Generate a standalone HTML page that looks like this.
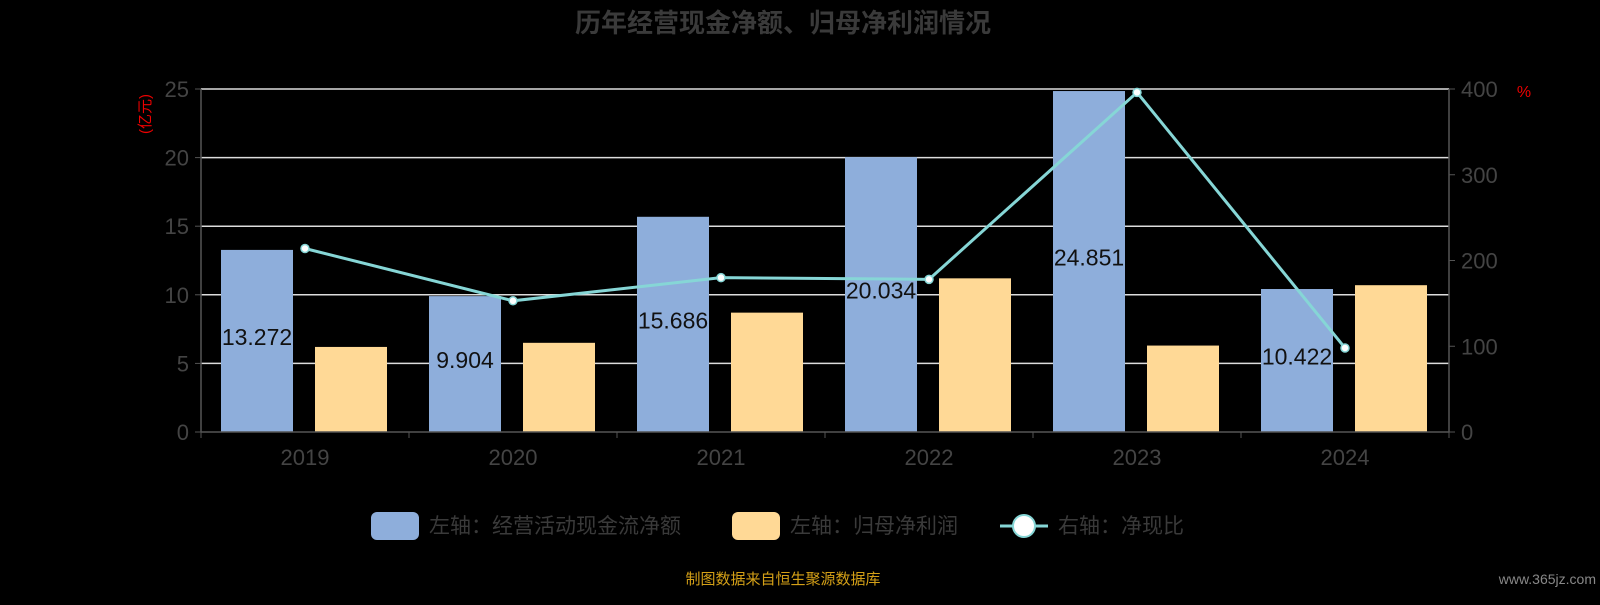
<!DOCTYPE html>
<html><head><meta charset="utf-8"><style>
body{margin:0;background:#000;}
svg text{font-family:"Liberation Sans","Noto Sans CJK SC",sans-serif;}
</style></head><body>
<svg id="c" width="1600" height="600" xmlns="http://www.w3.org/2000/svg">
<rect width="1600" height="600" fill="#000"/>
<text x="783" y="32" text-anchor="middle" font-size="26" font-weight="bold" fill="#3a3a3a">历年经营现金净额、归母净利润情况</text>
<text transform="translate(150,114) rotate(-90)" text-anchor="middle" font-size="15" fill="#e00">(亿元)</text>
<text x="1524" y="97" text-anchor="middle" font-size="16" fill="#e00">%</text>
<g id="grid"></g><g id="bars"></g><g id="line"></g><g id="axes"></g>
<g>
<rect x="371" y="512" width="48" height="28" rx="6" fill="#8eaedb"/>
<text x="429" y="533" font-size="21" fill="#3a3a3a">左轴：经营活动现金流净额</text>
<rect x="732" y="512" width="48" height="28" rx="6" fill="#ffd996"/>
<text x="790" y="533" font-size="21" fill="#3a3a3a">左轴：归母净利润</text>
<line x1="1000" y1="526" x2="1048" y2="526" stroke="#86d6d6" stroke-width="3"/>
<circle cx="1024" cy="526" r="11" fill="#fff" stroke="#86d6d6" stroke-width="2"/>
<text x="1058" y="533" font-size="21" fill="#3a3a3a">右轴：净现比</text>
</g>
<text x="783" y="584" text-anchor="middle" font-size="15" fill="#d4a017">制图数据来自恒生聚源数据库</text>
<text x="1596" y="584" text-anchor="end" font-size="14" fill="#888">www.365jz.com</text>
</svg>
<script>
const categories=["2019","2020","2021","2022","2023","2024"];
const cashflow=[13.272,9.904,15.686,20.034,24.851,10.422];
const profit=[6.2,6.5,8.7,11.2,6.3,10.7];
const ratio=[214,153,180,178,396,98];
const leftTicks=[0,5,10,15,20,25];
const rightTicks=[0,100,200,300,400];
const NS="http://www.w3.org/2000/svg";
const X0=201,X1=1449,Y0=432,Y1=89;
const band=(X1-X0)/categories.length;
const xc=i=>X0+band*(i+0.5);
const yl=v=>Y0-(v/25)*(Y0-Y1);
const yr=v=>Y0-(v/400)*(Y0-Y1);
function mk(tag,attrs,parent,txt){const e=document.createElementNS(NS,tag);for(const k in attrs)e.setAttribute(k,attrs[k]);if(txt!==undefined)e.textContent=txt;document.getElementById(parent).appendChild(e);return e;}
leftTicks.forEach(t=>{
 if(t>0){const g=mk('line',{x1:X0,x2:X1,y1:yl(t),y2:yl(t),stroke:'#ddd','stroke-width':1.5},'grid');
 
 }
 const tl=mk('text',{x:X0-12,y:yl(t)+8,'text-anchor':'end','font-size':22,fill:'#444'},'axes',t);
 
 
 mk('line',{x1:X0-6,x2:X0,y1:yl(t),y2:yl(t),stroke:'#555'},'axes');
});
rightTicks.forEach(t=>{
 const tl=mk('text',{x:X1+12,y:yr(t)+8,'font-size':22,fill:'#444'},'axes',t);
 
 
 mk('line',{x1:X1,x2:X1+6,y1:yr(t),y2:yr(t),stroke:'#555'},'axes');
});
const la=mk('line',{x1:X0,x2:X0,y1:Y1,y2:Y0,stroke:'#555','stroke-width':1.5},'axes');


const ra=mk('line',{x1:X1,x2:X1,y1:Y1,y2:Y0,stroke:'#555','stroke-width':1.5},'axes');


const xa=mk('line',{x1:X0,x2:X1,y1:Y0,y2:Y0,stroke:'#555','stroke-width':1.5},'axes');


for(let i=0;i<=categories.length;i++)mk('line',{x1:X0+band*i,x2:X0+band*i,y1:Y0,y2:Y0+6,stroke:'#555'},'axes');
categories.forEach((c,i)=>{
 const t=mk('text',{x:xc(i),y:Y0+33,'text-anchor':'middle','font-size':22,fill:'#444'},'axes',c);
 
 
 const b=mk('rect',{x:xc(i)-84,y:yl(cashflow[i]),width:72,height:Y0-yl(cashflow[i]),fill:'#8eaedb'},'bars');
 
 
 const p=mk('rect',{x:xc(i)+10,y:yl(profit[i]),width:72,height:Y0-yl(profit[i]),fill:'#ffd996'},'bars');
 
 
});
const pts=ratio.map((v,i)=>xc(i)+','+yr(v)).join(' ');
const pl=mk('polyline',{points:pts,fill:'none',stroke:'#86d6d6','stroke-width':3},'line');


ratio.forEach((v,i)=>{
 const c=mk('circle',{cx:xc(i),cy:yr(v),r:4,fill:'#fff',stroke:'#86d6d6','stroke-width':1.5},'line');
 
 
});
cashflow.forEach((v,i)=>{
 const t=mk('text',{x:xc(i)-48,y:(yl(v)+Y0)/2+4,'text-anchor':'middle','font-size':23,fill:'#111'},'line',v.toFixed(3));
 
 
});
</script>
</body></html>
